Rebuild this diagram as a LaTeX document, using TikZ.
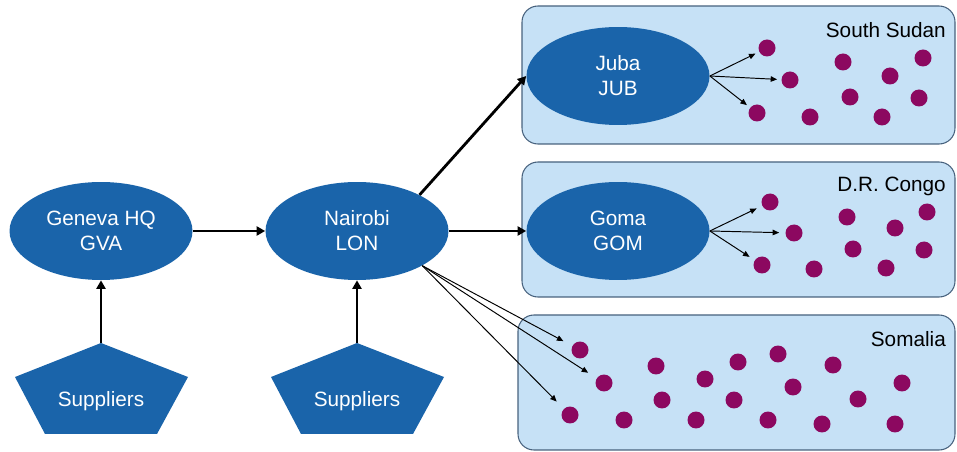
\documentclass[tikz,border=0pt]{standalone}
\usepackage{fontspec}
\setmainfont{Liberation Sans}
\usetikzlibrary{arrows.meta,shapes.geometric}
\definecolor{hubblue}{RGB}{26,100,170}
\definecolor{regfill}{RGB}{198,225,246}
\definecolor{regline}{RGB}{72,98,126}
\definecolor{dotpurple}{RGB}{140,8,96}
\tikzset{
  hub/.style={ellipse, fill=hubblue, text=white, minimum width=3.66cm, minimum height=1.96cm,
              inner sep=0pt, align=center, font=\fontsize{11.8}{14.2}\selectfont},
  suptxt/.style={text=white, anchor=base, font=\fontsize{11.8}{14.2}\selectfont},
  cbox/.style={draw=regline, fill=regfill, line width=0.6pt, rounded corners=0.32cm},
  rlab/.style={anchor=base east, font=\fontsize{11.8}{14.2}\selectfont},
  sdot/.style={circle, fill=dotpurple, minimum size=0.34cm, inner sep=0pt},
  bigarr/.style={-{Triangle[length=0.17cm, width=0.18cm]}, line width=1.6pt},
  smallarr/.style={-{Triangle[length=0.13cm, width=0.11cm]}, line width=0.55pt},
}
\begin{document}
\begin{tikzpicture}[x=0.02cm, y=-0.02cm]
  \useasboundingbox (0,0) rectangle (957,452);
  % country boxes
  \draw[cbox] (522,6) rectangle (955,144);
  \draw[cbox] (522,162) rectangle (955,297);
  \draw[cbox] (518,315) rectangle (955,450);
  \node[rlab] (lss) at (952,38) {South Sudan};
  \node[rlab] (ldrc) at (952,192) {D.R. Congo};
  \node[rlab] (lsom) at (952,347) {Somalia};
  % hubs
  \node[hub] (gva) at (101,231) {Geneva HQ\\GVA};
  \node[hub] (lon) at (357,231) {Nairobi\\LON};
  \node[hub] (jub) at (618,76) {Juba\\JUB};
  \node[hub] (gom) at (618,231) {Goma\\GOM};
  % suppliers
  \foreach \sx/\nm in {101/sgva, 357/slon}{
    \fill[hubblue] (\sx,343) -- ++(87,34) -- ++(-31,57) -- ++(-112,0) -- ++(-30,-57) -- cycle;
    \coordinate (\nm top) at (\sx,343);
    \node[suptxt] (\nm) at (\sx,407) {Suppliers};}
  % beneficiaries
  \foreach \px/\py [count=\i] in {767/48, 790/80, 757/113, 810/117, 843/62, 850/97,
                                  890/76, 882/117, 923/58, 919/98}
    \node[sdot] (ss\i) at (\px,\py) {};
  \foreach \px/\py [count=\i] in {770/202, 794/233, 762/265, 814/269, 847/217, 853/249,
                                  895/228, 886/268, 927/212, 924/250}
    \node[sdot] (drc\i) at (\px,\py) {};
  \foreach \px/\py [count=\i] in {580/350, 604/383, 570/415, 624/420, 656/366, 662/400,
                                  696/420, 705/379, 738/362, 734/400, 778/354, 768/420,
                                  793/387, 822/424, 833/365, 858/399, 902/383, 895/424}
    \node[sdot] (som\i) at (\px,\py) {};
  % flows
  \draw[bigarr] (sgvatop) -- (gva.south);
  \draw[bigarr] (slontop) -- (lon.south);
  \draw[bigarr] (gva) -- (lon);
  \draw[bigarr] (lon.30) -- (jub.west);
  \draw[bigarr] (lon.east) -- (gom.west);
  \foreach \k in {1,2,3}{
    \draw[smallarr, shorten >=0.08cm] (jub.east) -- (ss\k);
    \draw[smallarr, shorten >=0.12cm] (gom.east) -- (drc\k);
    \draw[smallarr, shorten >=0.2cm] (lon.-28) -- (som\k);}
\end{tikzpicture}
\end{document}
